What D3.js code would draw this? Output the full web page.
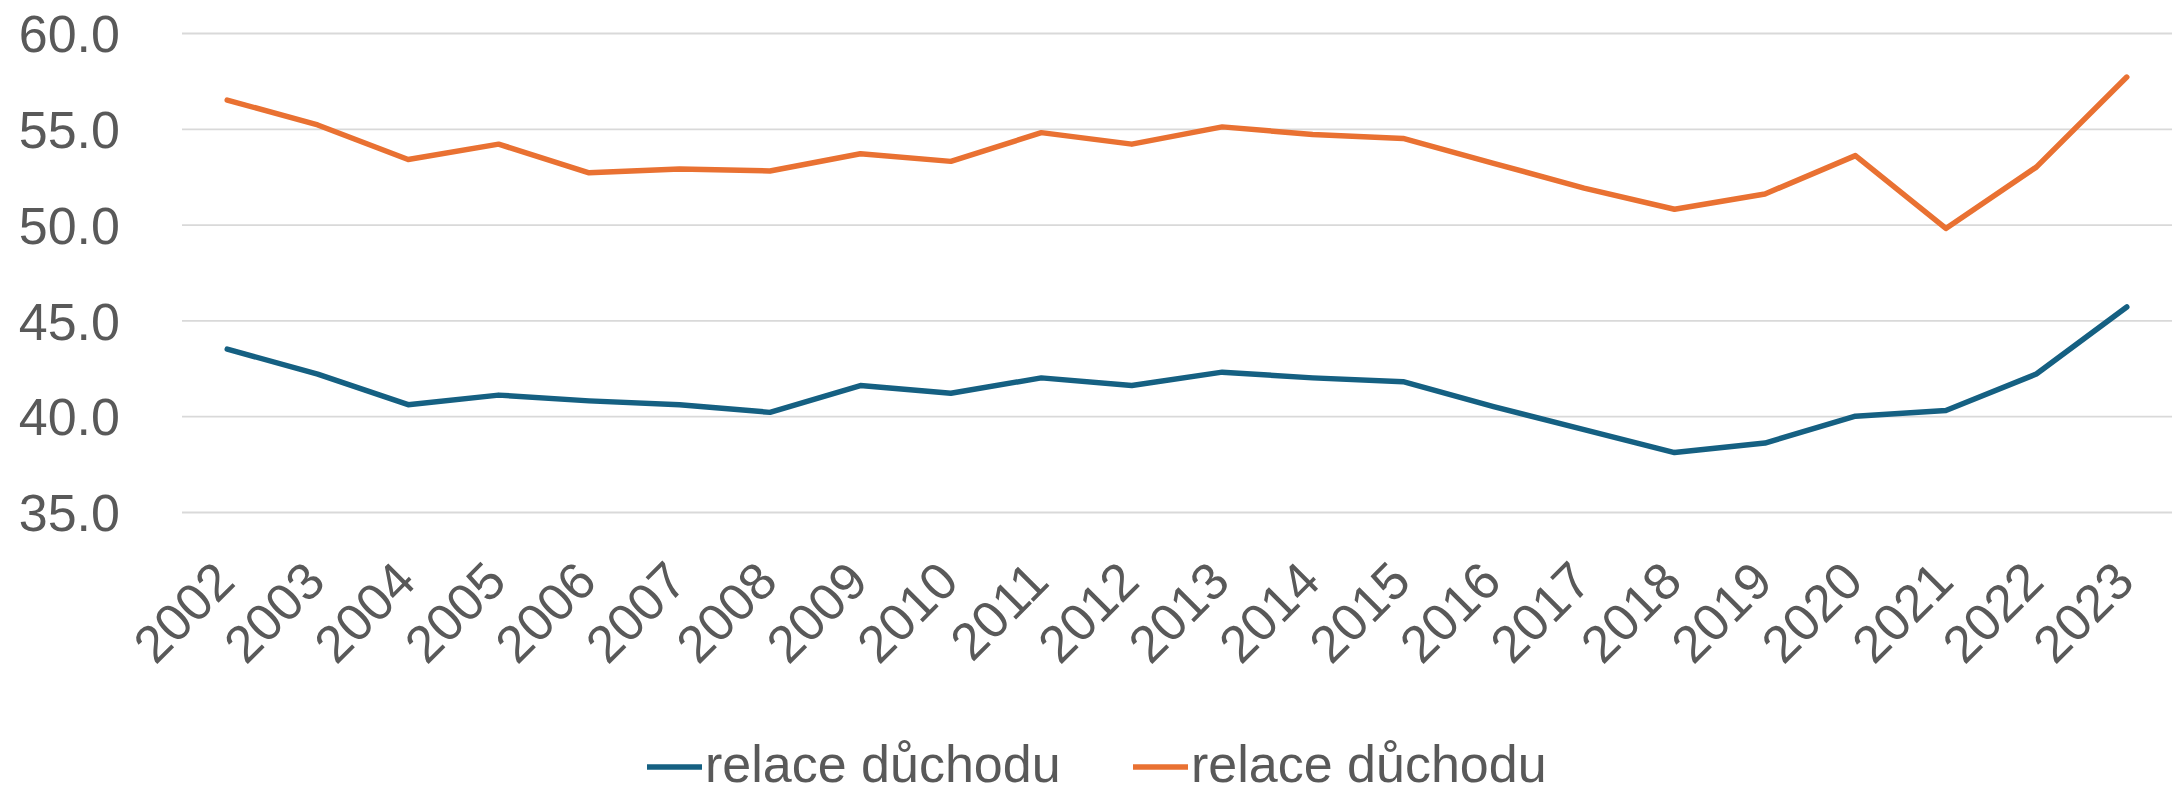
<!DOCTYPE html>
<html>
<head>
<meta charset="utf-8">
<script src="https://cdn.jsdelivr.net/npm/d3@7"></script>
<style>
  body { margin: 0; background: #fff; }
  svg text { font-family: "Liberation Sans", Arial, sans-serif; fill: #595959; }
</style>
</head>
<body>
<div id="chart"></div>
<script>
const years = ["2002", "2003", "2004", "2005", "2006", "2007", "2008", "2009", "2010", "2011", "2012",
  "2013", "2014", "2015", "2016", "2017", "2018", "2019", "2020", "2021", "2022", "2023"];

const seriesBlue = [43.5, 42.2, 40.6, 41.1, 40.8, 40.6, 40.2, 41.6, 41.2, 42.0, 41.6,
  42.3, 42.0, 41.8, 40.5, 39.3, 38.1, 38.6, 40.0, 40.3, 42.2, 45.7];

const seriesOrange = [56.5, 55.2, 53.4, 54.2, 52.7, 52.9, 52.8, 53.7, 53.3, 54.8, 54.2,
  55.1, 54.7, 54.5, 53.2, 51.9, 50.8, 51.6, 53.6, 49.8, 53.0, 57.7];

const yTicks = [35, 40, 45, 50, 55, 60];

const legendLabels = ["relace důchodu", "relace důchodu"];

const width = 2180, height = 794;
const plot = { left: 182, right: 2172, top: 33, bottom: 512 };

const series = [
  { name: legendLabels[0], values: seriesBlue, color: "#156082" },
  { name: legendLabels[1], values: seriesOrange, color: "#E97132" }
];

const svg = d3.select("#chart").append("svg")
  .attr("width", width)
  .attr("height", height);

const x = d3.scaleBand().domain(years).range([plot.left, plot.right]).padding(0);
const y = d3.scaleLinear().domain([35, 60]).range([plot.bottom, plot.top]);
const cx = (d) => x(d) + x.bandwidth() / 2;

// gridlines + y labels
const yAxis = svg.append("g")
  .attr("transform", `translate(${plot.left},0)`)
  .call(d3.axisLeft(y).tickValues(yTicks).tickFormat(d3.format(".1f"))
    .tickSize(-(plot.right - plot.left)).tickPadding(62));

yAxis.select(".domain").remove();
yAxis.selectAll(".tick line").attr("stroke", "#D9D9D9").attr("stroke-width", 1.8);
yAxis.selectAll(".tick text")
  .attr("font-size", 52)
  .attr("dy", "0.36em")
  .style("fill", "#595959");

// x labels rotated
const xg = svg.append("g");
xg.selectAll("text")
  .data(years)
  .join("text")
  .attr("text-anchor", "end")
  .attr("font-size", 52)
  .attr("transform", (d) => `translate(${cx(d) + 10},${plot.bottom + 72}) rotate(-45)`)
  .text((d) => d);

// lines
const line = d3.line()
  .x((d, i) => cx(years[i]))
  .y((d) => y(d));

svg.append("g")
  .selectAll("path")
  .data(series)
  .join("path")
  .attr("fill", "none")
  .attr("stroke", (d) => d.color)
  .attr("stroke-width", 5.5)
  .attr("stroke-linejoin", "round")
  .attr("stroke-linecap", "round")
  .attr("d", (d) => line(d.values));

// legend
const legendPos = [647, 1133];
const legend = svg.append("g")
  .selectAll("g")
  .data(series)
  .join("g")
  .attr("transform", (d, i) => `translate(${legendPos[i]},767)`);

legend.append("line")
  .attr("x1", 0).attr("x2", 55)
  .attr("stroke", (d) => d.color)
  .attr("stroke-width", 5.5);

legend.append("text")
  .attr("x", 58)
  .attr("y", 15)
  .attr("font-size", 52)
  .text((d) => d.name);
</script>
</body>
</html>
